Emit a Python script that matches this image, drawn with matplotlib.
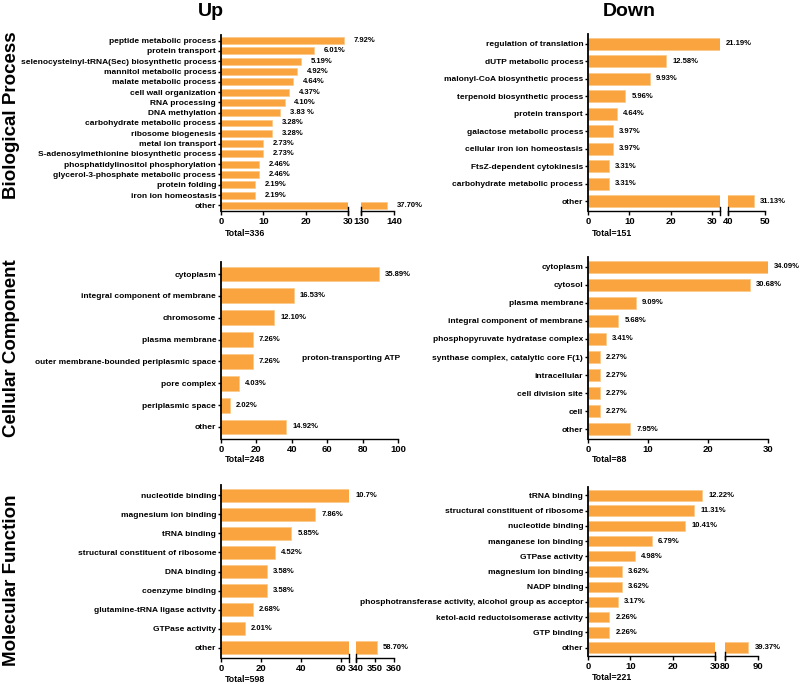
import numpy as np
import matplotlib.pyplot as plt
from matplotlib.lines import Line2D

plt.rcParams['font.family'] = ['Liberation Sans', 'DejaVu Sans']
plt.rcParams['font.weight'] = 'bold'

# ---- data ----
bp_up_labels = ['peptide metabolic process', 'protein transport',
                'selenocysteinyl-tRNA(Sec) biosynthetic process', 'mannitol metabolic process',
                'malate metabolic process', 'cell wall organization', 'RNA processing',
                'DNA methylation', 'carbohydrate metabolic process', 'ribosome biogenesis',
                'metal ion transport', 'S-adenosylmethionine biosynthetic process',
                'phosphatidylinositol phosphorylation', 'glycerol-3-phosphate metabolic process',
                'protein folding', 'iron ion homeostasis', 'other']
bp_up_counts = [29, 22, 19, 18, 17, 16, 15, 14, 12, 12, 10, 10, 9, 9, 8, 8, 138]
bp_up_pct = ['7.92%', '6.01%', '5.19%', '4.92%', '4.64%', '4.37%', '4.10%', '3.83 %', '3.28%',
             '3.28%', '2.73%', '2.73%', '2.46%', '2.46%', '2.19%', '2.19%', '37.70%']

bp_down_labels = ['regulation of translation', 'dUTP metabolic process',
                  'malonyl-CoA biosynthetic process', 'terpenoid biosynthetic process',
                  'protein transport', 'galactose metabolic process',
                  'cellular iron ion homeostasis', 'FtsZ-dependent cytokinesis',
                  'carbohydrate metabolic process', 'other']
bp_down_counts = [32, 19, 15, 9, 7, 6, 6, 5, 5, 47]
bp_down_pct = ['21.19%', '12.58%', '9.93%', '5.96%', '4.64%', '3.97%', '3.97%', '3.31%',
               '3.31%', '31.13%']

cc_up_labels = ['cytoplasm', 'integral component of membrane', 'chromosome', 'plasma membrane',
                'outer membrane-bounded periplasmic space', 'pore complex', 'periplasmic space',
                'other']
cc_up_counts = [89, 41, 30, 18, 18, 10, 5, 37]
cc_up_pct = ['35.89%', '16.53%', '12.10%', '7.26%', '7.26%', '4.03%', '2.02%', '14.92%']

cc_down_labels = ['cytoplasm', 'cytosol', 'plasma membrane', 'integral component of membrane',
                  'phosphopyruvate hydratase complex', 'synthase complex, catalytic core F(1)',
                  'intracellular', 'cell division site', 'cell', 'other']
cc_down_counts = [30, 27, 8, 5, 3, 2, 2, 2, 2, 7]
cc_down_pct = ['34.09%', '30.68%', '9.09%', '5.68%', '3.41%', '2.27%', '2.27%', '2.27%',
               '2.27%', '7.95%']

mf_up_labels = ['nucleotide binding', 'magnesium ion binding', 'tRNA binding',
                'structural constituent of ribosome', 'DNA binding', 'coenzyme binding',
                'glutamine-tRNA ligase activity', 'GTPase activity', 'other']
mf_up_counts = [64, 47, 35, 27, 23, 23, 16, 12, 351]
mf_up_pct = ['10.7%', '7.86%', '5.85%', '4.52%', '3.58%', '3.58%', '2.68%', '2.01%', '58.70%']

mf_down_labels = ['tRNA binding', 'structural constituent of ribosome', 'nucleotide binding',
                  'manganese ion binding', 'GTPase activity', 'magnesium ion binding',
                  'NADP binding', 'phosphotransferase activity, alcohol group as acceptor',
                  'ketol-acid reductoisomerase activity', 'GTP binding', 'other']
mf_down_counts = [27, 25, 23, 15, 11, 8, 8, 7, 5, 5, 87]
mf_down_pct = ['12.22%', '11.31%', '10.41%', '6.79%', '4.98%', '3.62%', '3.62%', '3.17%',
               '2.26%', '2.26%', '39.37%']

ORANGE = '#F9A43E'
EDGE = '#FCCB8C'
W, H = 800, 684

fig = plt.figure(figsize=(W / 100, H / 100), dpi=100)


def px_axes(x0, x1, top, bot):
    return fig.add_axes([x0 / W, 1 - bot / H, (x1 - x0) / W, (bot - top) / H])


def panel(labels, counts, pcts, top, bot, segs, total, pct_off=4.5, total_off=23):
    n = len(labels)
    y = np.arange(n)
    axes = []
    for i, (lo, hi, x0, x1, ticks) in enumerate(segs):
        ax = px_axes(x0, x1, top, bot)
        ax.set_facecolor('none')
        ax.barh(y, counts, height=0.68, color=ORANGE, edgecolor=EDGE, linewidth=0.6)
        ax.set_xlim(lo, hi)
        ax.set_ylim(n - 0.45, -0.55)
        ax.set_xticks(ticks)
        ax.tick_params(axis='x', labelsize=6.8, length=3, width=1, pad=1)
        ax.spines[['top', 'right']].set_visible(False)
        ax.spines['bottom'].set_linewidth(1)
        if i == 0:
            ax.spines['left'].set_linewidth(1.3)
            ax.set_yticks(y)
            ax.set_yticklabels(labels, fontsize=6)
            ax.tick_params(axis='y', length=2.5, width=1, pad=1)
        else:
            ax.spines['left'].set_visible(False)
            ax.set_yticks([])
        for lab in ax.get_xticklabels() + ax.get_yticklabels():
            lab.set_fontweight('bold')
        axes.append(ax)

    # percent labels on the segment where each bar ends
    for j, (c, p) in enumerate(zip(counts, pcts)):
        k = 0
        for i, s in enumerate(segs):
            if c > s[0]:
                k = i
        axes[k].annotate(p, (c, j), xytext=(pct_off, 0), textcoords='offset points',
                         va='center', ha='left', fontsize=5.5, fontweight='bold',
                         annotation_clip=False, zorder=5)

    # break marks
    for i in range(len(segs) - 1):
        for xp in (segs[i][3], segs[i + 1][2]):
            fig.add_artist(Line2D([xp / W, xp / W], [1 - (bot + 4) / H, 1 - (bot - 4) / H],
                                  color='black', lw=1))

    fig.text((segs[0][2] + 4) / W, 1 - (bot + total_off) / H, 'Total=%d' % total,
             fontsize=6.3, fontweight='bold', ha='left', va='center')
    return axes


panel(bp_up_labels, bp_up_counts, bp_up_pct, 35, 211,
      [(0, 30, 221, 348, [0, 10, 20, 30]), (130, 140, 361, 394, [130, 140])], 336, pct_off=7)
panel(bp_down_labels, bp_down_counts, bp_down_pct, 34, 211,
      [(0, 32, 588, 720, [0, 10, 20, 30]), (40, 50, 728, 765, [40, 50])], 151)
panel(cc_up_labels, cc_up_counts, cc_up_pct, 262, 439,
      [(0, 100, 221, 398, [0, 20, 40, 60, 80, 100])], 248, total_off=21)
panel(cc_down_labels, cc_down_counts, cc_down_pct, 257, 439,
      [(0, 30, 588, 768, [0, 10, 20, 30])], 88, total_off=21)
panel(mf_up_labels, mf_up_counts, mf_up_pct, 485, 658,
      [(0, 64, 221, 349, [0, 20, 40, 60]), (340, 360, 356, 394, [340, 350, 360])], 598,
      total_off=21)
panel(mf_down_labels, mf_down_counts, mf_down_pct, 487, 656,
      [(0, 30, 588, 715, [0, 10, 20, 30]), (80, 90, 725, 758, [80, 90])], 221,
      total_off=22)

# split label fragment between the two cellular component panels
fig.text(302 / W, 1 - 358 / H, 'proton-transporting ATP', fontsize=6, fontweight='bold',
         ha='left', va='center')

# column headers
fig.text(211 / W, 1 - 12 / H, 'Up', fontsize=14, fontweight='bold', ha='center', va='center')
fig.text(629 / W, 1 - 12 / H, 'Down', fontsize=14, fontweight='bold', ha='center', va='center')

# row headers
for yc, txt in [(115, 'Biological Process'), (348, 'Cellular Component'),
                (580, 'Molecular Function')]:
    fig.text(12 / W, 1 - yc / H, txt, fontsize=13.5, fontweight='bold', rotation=90,
             ha='center', va='center')

plt.savefig('out.png', dpi=100)
plt.close()
